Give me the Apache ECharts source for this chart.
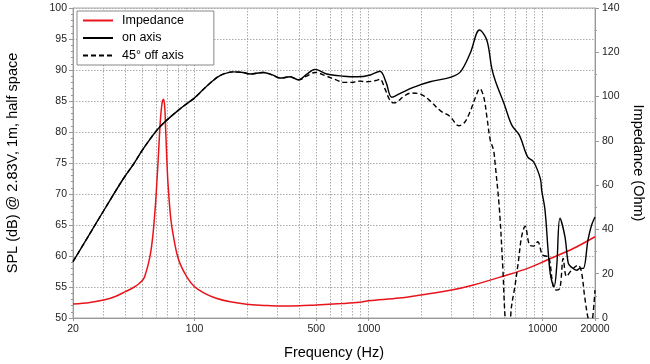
<!DOCTYPE html>
<html><head><meta charset="utf-8">
<script src="https://cdn.jsdelivr.net/npm/echarts@6/dist/echarts.min.js"></script>
<style>html,body{margin:0;padding:0;background:#fff}#c{width:650px;height:364px}</style>
</head><body><div id="c"></div>
<script>
// ---- data (frequency in Hz) ----
const onAxisFreq = [20,25,30,39,45,50.7,63,83,100,107,123,140,167,190,208,248,280,310,354,396,440,492,574,718,857,1024,1162,1260,1358,1512,1806,2254,2940,3368,3834,4338,4780,5100,5370,6000,6650,7350,8200,8870,9700,9880,10320,10780,11130,11630,12050,12580,13440,14050,14640,15700,16400,17120,18230,19120,20000];
const onAxisSPL  = [59.1,63.6,67.3,72.5,75.0,77.3,80.8,83.8,85.5,86.3,87.9,89.1,89.7,89.6,89.35,89.6,89.2,88.7,88.9,88.4,89.3,90.1,89.35,89.0,88.9,89.2,89.8,88.0,85.6,86.2,87.2,88.1,88.8,89.7,92.7,96.45,94.8,90.3,88.1,84.6,81.1,79.5,76.0,75.2,72.5,70.6,67.4,60.5,56.7,55.05,58.3,66.1,63.1,58.8,58.2,57.7,58.0,58.0,62.6,65.0,66.3];

const offAxisFreq = [20,25,30,39,45,50.7,63,83,100,107,123,140,167,190,208,248,280,310,354,396,440,492,574,650,718,800,890,974,1100,1162,1240,1320,1388,1451,1600,1768,2025,2300,2590,2940,3296,3550,3834,4100,4360,4600,4780,5000,5220,5330,5650,5900,6150,6400,6620,6920,7240,7570,7930,8400,8870,9370,9950,10390,10870,11520,12050,12580,13130,13720,14640,15990,16700,17450,18230,18890,20000];
const offAxisSPL  = [59.1,63.6,67.3,72.5,75.0,77.3,80.8,83.8,85.5,86.3,87.9,89.1,89.7,89.6,89.35,89.6,89.2,88.7,88.9,88.4,89.0,89.6,89.0,88.4,88.0,88.0,88.2,88.1,88.3,88.5,87.0,85.2,84.7,84.8,85.8,86.3,86.0,84.8,83.4,82.5,81.0,81.5,83.3,85.5,87.0,85.5,82.5,78.7,77.1,75.0,67.4,58.3,48.5,47.5,51.8,55.0,58.9,63.1,64.8,61.8,61.6,62.3,60.2,60.0,59.8,55.05,54.5,54.8,59.6,56.7,57.7,58.5,57.5,53.4,50.0,48.5,54.5];

const impFreq = [20,25,30,35,40,45,48,50.7,52.5,54.4,56,57.5,59,60,61.8,63.4,65,66.3,67.3,68.1,69.2,70.3,72.8,75.6,79.1,82.8,90,100,115,133,160,199,250,310,400,500,700,890,1000,1500,2000,3000,4000,6000,8200,10600,15100,20000];
const impedance = [6.3,7.0,8.1,9.7,11.9,14.0,15.6,17.4,20.5,25.0,30.0,37.0,47.0,55.0,72.0,88.0,97.0,98.8,95.5,86.0,72.0,60.8,45.5,36.7,29.0,24.2,18.7,14.1,11.0,8.9,7.3,6.2,5.7,5.4,5.5,5.9,6.5,7.1,7.8,9.0,10.4,12.6,14.9,19.0,22.4,26.2,31.5,36.7];

const xTickLabels = [20,100,500,1000,10000,20000];
const gridFreqs = [20,30,40,50,60,70,80,90,100,200,300,400,500,600,700,800,900,1000,2000,3000,4000,5000,6000,7000,8000,9000,10000,20000];

const L = Math.log10;
const toPts = (fs, vs) => fs.map((f, i) => [L(f), vs[i]]);
const FONT = 'Liberation Sans, Arial, sans-serif';
const gray = '#999';

const chart = echarts.init(document.getElementById('c'), null, {renderer: 'canvas'});
chart.setOption({
  animation: false,
  grid: {left: 73, right: 55, top: 8, bottom: 46, show: true, borderColor: '#aaa', borderWidth: 1,
         containLabel: false, outerBoundsMode: 'none'},
  legend: {
    orient: 'vertical', left: 77, top: 11,
    itemWidth: 30, itemHeight: 12, itemGap: 4.5,
    padding: [3, 30, 3, 5],
    borderColor: '#888', borderWidth: 1, backgroundColor: '#fff',
    itemStyle: {opacity: 0},
    textStyle: {fontFamily: FONT, fontSize: 12.5, color: '#000', padding: [0,0,0,4]},
    data: ['Impedance', 'on axis', '45° off axis']
  },
  xAxis: [{
    type: 'value', min: L(20), max: L(20000), position: 'bottom',
    name: 'Frequency (Hz)', nameLocation: 'middle', nameGap: 27,
    nameTextStyle: {fontFamily: FONT, fontSize: 14.5, color: '#000'},
    axisLine: {show: true, lineStyle: {color: gray}},
    axisTick: {show: true, length: 3, lineStyle: {color: gray}, customValues: xTickLabels.map(L)},
    axisLabel: {fontFamily: FONT, fontSize: 10.5, color: '#222', margin: 6, customValues: xTickLabels.map(L),
      formatter: v => String(Math.round(Math.pow(10, v)))},
    splitLine: {show: false}
  }, {
    type: 'value', min: L(20), max: L(20000), position: 'bottom',
    axisLine: {show: false}, axisLabel: {show: false},
    axisTick: {show: false, customValues: gridFreqs.map(L)},
    splitLine: {show: true, lineStyle: {color: '#aaa', type: [1.5, 1.5], width: 1}}
  }],
  yAxis: [{
    type: 'value', min: 50, max: 100, interval: 5, position: 'left',
    name: 'SPL (dB) @ 2.83V, 1m, half space', nameLocation: 'middle', nameGap: 53,
    nameTextStyle: {fontFamily: FONT, fontSize: 14.5, color: '#000'},
    axisLine: {show: true, lineStyle: {color: gray}},
    axisTick: {show: true, length: 4, lineStyle: {color: gray}},
    minorTick: {show: true, splitNumber: 5, length: 2, lineStyle: {color: gray}},
    axisLabel: {fontFamily: FONT, fontSize: 10.5, color: '#222', margin: 6},
    splitLine: {show: true, lineStyle: {color: '#aaa', type: [1.5, 1.5], width: 1}}
  }, {
    type: 'value', min: 0, max: 140, interval: 20, position: 'right',
    name: 'Impedance (Ohm)', nameLocation: 'middle', nameGap: 35, nameRotate: -90,
    nameTextStyle: {fontFamily: FONT, fontSize: 14.5, color: '#000'},
    axisLine: {show: true, lineStyle: {color: gray}},
    axisTick: {show: true, length: 4, lineStyle: {color: gray}},
    minorTick: {show: true, splitNumber: 2, length: 2, lineStyle: {color: gray}},
    axisLabel: {fontFamily: FONT, fontSize: 10.5, color: '#222', margin: 7},
    splitLine: {show: false}
  }],
  series: [{
    name: 'Impedance', type: 'line', yAxisIndex: 1, xAxisIndex: 0,
    data: toPts(impFreq, impedance), symbol: 'none', smooth: 0.35, clip: true,
    lineStyle: {color: '#e8141b', width: 1.5}, itemStyle: {color: '#e8141b'}, z: 3
  }, {
    name: 'on axis', type: 'line', yAxisIndex: 0, xAxisIndex: 0,
    data: toPts(onAxisFreq, onAxisSPL), symbol: 'none', smooth: 0.35, clip: true,
    lineStyle: {color: '#000', width: 1.4}, itemStyle: {color: '#000'}, z: 4
  }, {
    name: '45° off axis', type: 'line', yAxisIndex: 0, xAxisIndex: 0,
    data: toPts(offAxisFreq, offAxisSPL), symbol: 'none', smooth: 0.35, clip: true,
    lineStyle: {color: '#000', width: 1.4, type: [5, 3]}, itemStyle: {color: '#000'}, z: 4
  }]
});
</script></body></html>
